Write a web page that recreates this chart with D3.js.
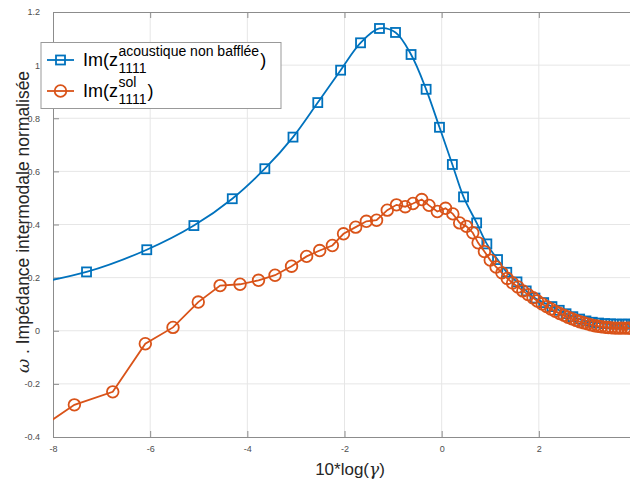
<!DOCTYPE html>
<html><head><meta charset="utf-8">
<script src="https://cdn.jsdelivr.net/npm/d3@7"></script>
<style>
body{margin:0;background:#fff;}
text{font-family:"Liberation Sans",Arial,sans-serif;}
</style></head>
<body><svg id="c" width="630" height="484"></svg>
<script>
// Blue: Im(z^{acoustique non bafflée}_{1111})
const blueX = [-9.1,-7.31,-6.07,-5.10,-4.31,-3.64,-3.06,-2.55,-2.08,-1.67,-1.28,-0.95,-0.63,-0.32,-0.045,0.22,0.45,0.72,0.93,1.15,1.34,1.55,1.74,1.92,2.10,2.27,2.42,2.56,2.70,2.84,2.97,3.10,3.23,3.36,3.48,3.60,3.72,3.83,3.95];
const blueY = [0.155,0.2215,0.305,0.396,0.497,0.61,0.729,0.859,0.981,1.084,1.138,1.123,1.040,0.909,0.766,0.626,0.504,0.406,0.327,0.268,0.220,0.184,0.150,0.123,0.106,0.091,0.077,0.064,0.053,0.044,0.037,0.032,0.029,0.027,0.026,0.025,0.025,0.025,0.025];
// Orange: Im(z^{sol}_{1111})
const orangeX = [-8.54,-7.56,-6.77,-6.10,-5.53,-5.01,-4.56,-4.15,-3.77,-3.43,-3.09,-2.78,-2.51,-2.25,-2.02,-1.77,-1.55,-1.34,-1.12,-0.93,-0.75,-0.59,-0.41,-0.26,-0.09,0.08,0.23,0.37,0.51,0.64,0.75,0.88,1.00,1.12,1.24,1.35,1.46,1.57,1.67,1.78,1.88,1.97,2.07,2.16,2.25,2.34,2.43,2.52,2.60,2.68,2.77,2.84,2.92,3.00,3.08,3.15,3.22,3.29,3.37,3.43,3.50,3.57,3.64,3.70,3.77,3.83,3.89];
const orangeY = [-0.40,-0.279,-0.230,-0.049,0.0126,0.108,0.170,0.175,0.190,0.209,0.243,0.280,0.302,0.321,0.365,0.390,0.412,0.416,0.454,0.474,0.467,0.479,0.494,0.472,0.449,0.461,0.440,0.406,0.393,0.369,0.331,0.298,0.266,0.240,0.218,0.197,0.180,0.165,0.150,0.136,0.124,0.112,0.101,0.091,0.082,0.073,0.065,0.058,0.051,0.045,0.039,0.034,0.030,0.026,0.022,0.019,0.017,0.015,0.013,0.012,0.011,0.010,0.010,0.010,0.010,0.010,0.010];
const xTicks = [-8,-6,-4,-2,0,2];
const xTickLabels = ["-8","-6","-4","-2","0","2"];
const yTicks = [-0.4,-0.2,0,0.2,0.4,0.6,0.8,1,1.2];
const yTickLabels = ["-0.4","-0.2","0","0.2","0.4","0.6","0.8","1","1.2"];

const svg = d3.select("#c");
const L=53, T=12, B=437, R=636;
const x = d3.scaleLinear().domain([-8,4]).range([L,R]);
const y = d3.scaleLinear().domain([-0.4,1.2]).range([B,T]);
const blue="#0072BD", orange="#D95319", axisCol="#8c8c8c", txtCol="#4d4d4d";

svg.append("defs").append("clipPath").attr("id","clip")
  .append("rect").attr("x",L).attr("y",T).attr("width",R-L).attr("height",B-T);

// grid
const g = svg.append("g");
g.selectAll(".gx").data(xTicks.slice(1)).enter().append("line")
  .attr("x1",d=>x(d)).attr("x2",d=>x(d)).attr("y1",T).attr("y2",B)
  .attr("stroke","#e6e6e6").attr("stroke-width",1);
g.selectAll(".gy").data(yTicks.slice(1,-1)).enter().append("line")
  .attr("x1",L).attr("x2",R).attr("y1",d=>y(d)).attr("y2",d=>y(d))
  .attr("stroke","#e6e6e6").attr("stroke-width",1);

// axes
const xAxisB = d3.axisBottom(x).tickValues(xTicks).tickSizeInner(-6).tickSizeOuter(0).tickPadding(9).tickFormat((d,i)=>xTickLabels[i]);
const xAxisT = d3.axisTop(x).tickValues(xTicks).tickSizeInner(-6).tickSizeOuter(0).tickFormat("");
const yAxisL = d3.axisLeft(y).tickValues(yTicks).tickSizeInner(-6).tickSizeOuter(0).tickPadding(13).tickFormat((d,i)=>yTickLabels[i]);
function style(sel){
  sel.select(".domain").attr("stroke",axisCol);
  sel.selectAll(".tick line").attr("stroke",axisCol);
  sel.selectAll(".tick text").attr("fill",txtCol).style("font-size","9px").style("font-family","'Liberation Sans',Arial,sans-serif");
}
svg.append("g").attr("transform",`translate(0,${B})`).call(xAxisB).call(style);
svg.append("g").attr("transform",`translate(0,${T})`).call(xAxisT).call(style);
svg.append("g").attr("transform",`translate(${L},0)`).call(yAxisL).call(style);

// data
const plot = svg.append("g").attr("clip-path","url(#clip)");
const bData = blueX.map((v,i)=>[v,blueY[i]]);
const oData = orangeX.map((v,i)=>[v,orangeY[i]]);
const lineB = d3.line().x(d=>x(d[0])).y(d=>y(d[1])).curve(d3.curveCatmullRom.alpha(0.5));
const lineO = d3.line().x(d=>x(d[0])).y(d=>y(d[1]));
plot.append("path").attr("d",lineB(bData)).attr("fill","none").attr("stroke",blue).attr("stroke-width",1.8);
plot.selectAll(".sq").data(bData).enter().append("rect")
  .attr("x",d=>x(d[0])-4.5).attr("y",d=>y(d[1])-4.5).attr("width",9).attr("height",9)
  .attr("fill","none").attr("stroke",blue).attr("stroke-width",1.8);
plot.append("path").attr("d",lineO(oData)).attr("fill","none").attr("stroke",orange).attr("stroke-width",1.8);
plot.selectAll(".ci").data(oData).enter().append("circle")
  .attr("cx",d=>x(d[0])).attr("cy",d=>y(d[1])).attr("r",5.8)
  .attr("fill","none").attr("stroke",orange).attr("stroke-width",1.8);

// axis labels
const xl = svg.append("text").attr("x",350).attr("y",475).attr("text-anchor","middle")
  .attr("fill","#262626").style("font-size","17px");
xl.append("tspan").text("10*log(");
xl.append("tspan").attr("font-style","italic").attr("font-family","'DejaVu Serif',serif").text("γ");
xl.append("tspan").text(")");
const yl = svg.append("text").attr("transform","translate(29,222) rotate(-90)").attr("text-anchor","middle")
  .attr("fill","#262626").style("font-size","17.5px");
yl.append("tspan").attr("font-style","italic").attr("font-family","'DejaVu Serif',serif").text("ω");
yl.append("tspan").text(" . Impédance intermodale normalisée");

// legend
const lg = svg.append("g");
lg.append("rect").attr("x",41).attr("y",42.5).attr("width",240).attr("height",66)
  .attr("fill","#fff").attr("stroke","#999").attr("stroke-width",1);
const rows = [
  {c:blue, sym:"sq", y:60, sup:"acoustique non bafflée"},
  {c:orange, sym:"ci", y:91, sup:"sol"}
];
function measure(str, size){
  const t = svg.append("text").style("font-size",size+"px").text(str);
  const w = t.node().getComputedTextLength(); t.remove(); return w;
}
rows.forEach(r=>{
  lg.append("line").attr("x1",47).attr("x2",74).attr("y1",r.y).attr("y2",r.y).attr("stroke",r.c).attr("stroke-width",1.8);
  if(r.sym==="sq") lg.append("rect").attr("x",60.5-4.5).attr("y",r.y-4.5).attr("width",9).attr("height",9).attr("fill","none").attr("stroke",r.c).attr("stroke-width",1.8);
  else lg.append("circle").attr("cx",60.5).attr("cy",r.y).attr("r",5.8).attr("fill","none").attr("stroke",r.c).attr("stroke-width",1.8);
  const w0 = measure("Im(z",18);
  const sx = 83 + w0 + 0.5;
  const ww = Math.max(measure(r.sup,14), measure("1111",14));
  const t = lg.append("text").attr("fill","#000").style("font-size","18px");
  t.append("tspan").attr("x",83).attr("y",r.y+6).text("Im(z");
  t.append("tspan").attr("x",sx).attr("y",r.y-4).style("font-size","14px").text(r.sup);
  t.append("tspan").attr("x",sx).attr("y",r.y+12.5).style("font-size","14px").text("1111");
  t.append("tspan").attr("x",sx+ww+1).attr("y",r.y+6).text(")");
});
</script></body></html>
